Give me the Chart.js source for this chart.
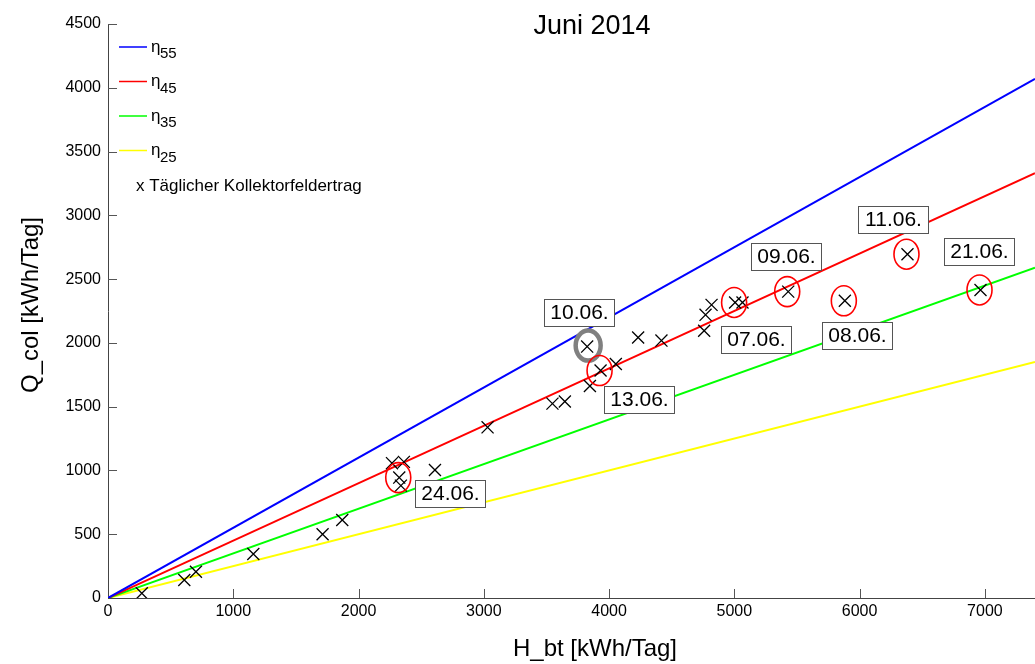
<!DOCTYPE html>
<html>
<head>
<meta charset="utf-8">
<script src="https://cdn.jsdelivr.net/npm/chart.js@4"></script>
<style>
body { margin: 0; background: #fff; }
#chartCanvas { display: block; }
</style>
</head>
<body>
<canvas id="chartCanvas" width="1035" height="664"></canvas>
<script>
// daily values
var hbt = [270, 609, 702, 1160, 1713, 1870, 2267, 2325, 2338, 2362, 2610, 3030, 3548, 3647, 3825, 3847, 3932, 4054, 4232, 4418, 4759, 4770, 4818, 5006, 5065, 5430, 5882, 6382, 6965];
var qcol = [37, 141, 206, 345, 500, 612, 1057, 944, 881, 1067, 1004, 1338, 1524, 1540, 1971, 1662, 1783, 1835, 2042, 2018, 2095, 2220, 2298, 2317, 2317, 2402, 2330, 2695, 2415];

// efficiency lines (two end points each)
var lineX = [0, 7400];
var eta55 = [0, 4070];
var eta45 = [0, 3330];
var eta35 = [0, 2590];
var eta25 = [0, 1850];
var etaNames = ['55', '45', '35', '25'];

// marked days
var labelDates = ['24.06.', '10.06.', '13.06.', '07.06.', '09.06.', '08.06.', '11.06.', '21.06.'];
var labelIdx = [7, 14, 16, 23, 25, 26, 27, 28];

var xTicks = [0, 1000, 2000, 3000, 4000, 5000, 6000, 7000];
var yTicks = [0, 500, 1000, 1500, 2000, 2500, 3000, 3500, 4000, 4500];

// box offsets in px relative to the point (layout only)
var boxOffsets = [[16, 2], [-43, -48], [3, 15], [-14, 24], [-37, -49], [-23, 21], [-49, -48], [-37, -52]];
var etaColors = ['#0000ff', '#ff0000', '#00ff00', '#ffff00'];

function toXY(xs, ys) {
    var out = [];
    for (var i = 0; i < xs.length; i++) {
        out.push({ x: xs[i], y: ys[i] });
    }
    return out;
}

var lineSets = [eta55, eta45, eta35, eta25].map(function (ys, i) {
    return {
        label: 'eta' + etaNames[i],
        data: toXY(lineX, ys),
        showLine: true,
        borderColor: etaColors[i],
        borderWidth: 2,
        pointRadius: 0,
        order: 2
    };
});

var font = 'Liberation Sans, Arial, sans-serif';

var extras = {
    id: 'extras',
    afterDraw: function (chart) {
        var c = chart.ctx;
        var xs = chart.scales.x;
        var ys = chart.scales.y;
        var area = chart.chartArea;
        c.save();

        // inward tick marks
        c.strokeStyle = '#555';
        c.lineWidth = 1;
        c.beginPath();
        xTicks.forEach(function (t) {
            if (t === 0) return;
            var px = Math.round(xs.getPixelForValue(t)) + 0.5;
            c.moveTo(px, area.bottom);
            c.lineTo(px, area.bottom - 9);
        });
        yTicks.forEach(function (t) {
            if (t === 0) return;
            var py = Math.round(ys.getPixelForValue(t)) + 0.5;
            c.moveTo(area.left, py);
            c.lineTo(area.left + 9, py);
        });
        c.stroke();

        // circles and date boxes
        labelDates.forEach(function (d, i) {
            var k = labelIdx[i];
            var px = xs.getPixelForValue(hbt[k]);
            var py = ys.getPixelForValue(qcol[k]);
            c.beginPath();
            if (d === '10.06.') {
                c.strokeStyle = '#808080';
                c.lineWidth = 4.5;
                c.ellipse(px + 1, py - 1, 12.5, 15, 0, 0, Math.PI * 2);
            } else {
                c.strokeStyle = '#ff0000';
                c.lineWidth = 1.6;
                c.ellipse(px - 1, py, 12.5, 15, 0, 0, Math.PI * 2);
            }
            c.stroke();

            var bx = Math.round(px + boxOffsets[i][0]) + 0.5;
            var by = Math.round(py + boxOffsets[i][1]) + 0.5;
            c.fillStyle = '#fff';
            c.fillRect(bx, by, 70, 27);
            c.strokeStyle = '#555';
            c.lineWidth = 1;
            c.strokeRect(bx, by, 70, 27);
            c.fillStyle = '#000';
            c.font = '21px ' + font;
            c.textAlign = 'center';
            c.textBaseline = 'middle';
            c.fillText(d, bx + 35, by + 14);
        });

        // legend
        c.textAlign = 'left';
        c.textBaseline = 'middle';
        etaNames.forEach(function (n, i) {
            var ly = 47 + i * 34.5;
            c.strokeStyle = etaColors[i];
            c.lineWidth = 1.5;
            c.beginPath();
            c.moveTo(119, ly);
            c.lineTo(147, ly);
            c.stroke();
            c.fillStyle = '#000';
            c.font = '17px ' + font;
            c.fillText('\u03b7', 151, ly);
            c.font = '15px ' + font;
            c.fillText(n, 160, ly + 7);
        });
        c.font = '17px ' + font;
        c.fillText('x T\u00e4glicher Kollektorfeldertrag', 136, 186);

        // titles
        c.textAlign = 'center';
        c.font = '27px ' + font;
        c.fillText('Juni 2014', 592, 27);
        c.font = '24px ' + font;
        c.fillText('H_bt [kWh/Tag]', 595, 649);
        c.translate(31, 305);
        c.rotate(-Math.PI / 2);
        c.fillText('Q_col [kWh/Tag]', 0, 0);
        c.restore();
    }
};

function plainLabel(v) { return String(v); }

var ctx = document.getElementById('chartCanvas').getContext('2d');
var myChart = new Chart(ctx, {
    type: 'scatter',
    data: {
        datasets: lineSets.concat([{
            label: 'Täglicher Kollektorfeldertrag',
            data: toXY(hbt, qcol),
            pointStyle: 'crossRot',
            pointRadius: 8.5,
            borderColor: '#000',
            borderWidth: 1.3,
            order: 1
        }])
    },
    options: {
        responsive: false,
        animation: false,
        layout: { padding: { top: 24, left: 0, right: 0, bottom: 0 }, autoPadding: false },
        plugins: {
            legend: { display: false },
            title: { display: false },
            tooltip: { enabled: false }
        },
        scales: {
            x: {
                type: 'linear',
                min: 0,
                max: 7400,
                afterFit: function (s) { s.height = 66; s.paddingLeft = 0; s.paddingRight = 0; },
                afterBuildTicks: function (s) { s.ticks = xTicks.map(function (v) { return { value: v }; }); },
                ticks: { font: { size: 16, family: font }, color: '#000', padding: 4, maxRotation: 0, callback: plainLabel },
                grid: { drawOnChartArea: false, drawTicks: false },
                border: { display: true, color: '#444', width: 1 }
            },
            y: {
                type: 'linear',
                min: 0,
                max: 4500,
                afterFit: function (s) { s.width = 108; s.paddingTop = 0; s.paddingBottom = 0; },
                afterBuildTicks: function (s) { s.ticks = yTicks.map(function (v) { return { value: v }; }); },
                ticks: { font: { size: 16, family: font }, color: '#000', padding: 7, callback: plainLabel },
                grid: { drawOnChartArea: false, drawTicks: false },
                border: { display: true, color: '#444', width: 1 }
            }
        }
    },
    plugins: [extras]
});
</script>
</body>
</html>
